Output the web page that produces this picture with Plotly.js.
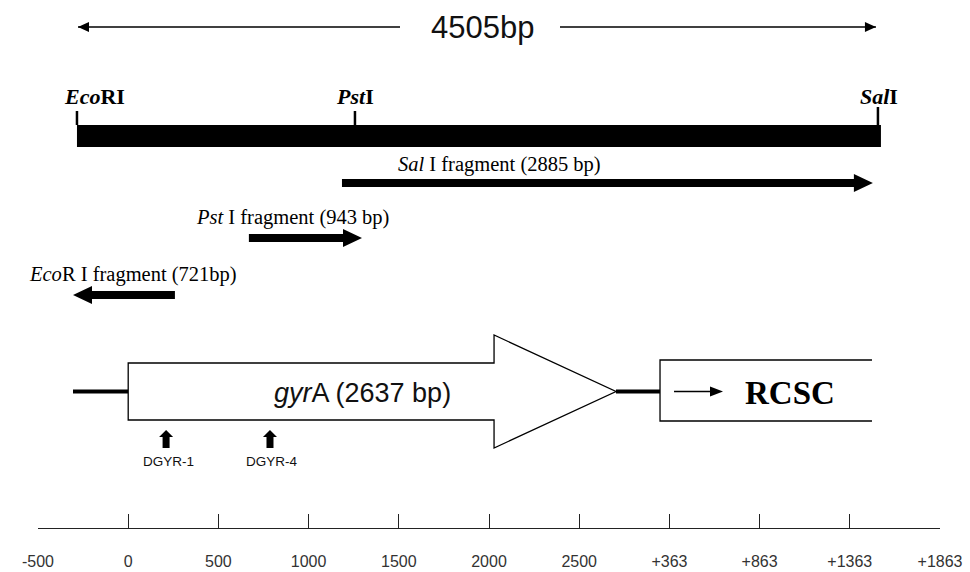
<!DOCTYPE html>
<html>
<head>
<meta charset="utf-8">
<script src="https://cdn.plot.ly/plotly-3.0.1.min.js"></script>
<style>html,body{margin:0;padding:0;background:#fff;}#chart{width:970px;height:572px;}</style>
</head>
<body>
<div id="chart"></div>
<script>
// ---------------- data (positions in bp) ----------------
const rulerTicks  = [-500, 0, 500, 1000, 1500, 2000, 2500, 3000, 3500, 4000, 4500];
const rulerLabels = ['-500', '0', '500', '1000', '1500', '2000', '2500', '+363', '+863', '+1363', '+1863'];

const totalLabel = '4505bp';

const siteNames = ['<b><i>Eco</i>RI</b>', '<b><i>Pst</i>I</b>', '<b><i>Sal</i>I</b>'];
const sitePos   = [-284, 1257, 4156];

const fragNames = ['<i>Sal</i> I fragment (2885 bp)', '<i>Pst</i> I fragment (943 bp)', '<i>Eco</i>R I fragment (721bp)'];
const fragTail  = [1185, 669, 259];
const fragHead  = [4128, 1296, -306];

const geneName     = '<i>gyr</i>A (2637 bp)';
const geneStart    = 0;
const geneHeadBase = 2028;
const geneEnd      = 2704;
const flankLeft    = -306;

const rcscName  = '<b>RCSC</b>';
const rcscStart = 2948;
const rcscEnd   = 4123;

const primerNames = ['DGYR-1', 'DGYR-4'];
const primerPos   = [210, 786];

// ---------------- layout helpers ----------------
const W = 970, H = 572, ML = 38, MR = 30, MT = 0, MB = 44;
const XMIN = -500, XMAX = 4500;
const K = (XMAX - XMIN) / (W - ML - MR);      // bp per pixel
const px2bp = p => XMIN + (p - ML) * K;

const serif = '"Liberation Serif", "Times New Roman", serif';
const sans  = '"Liberation Sans", Arial, sans-serif';

function hArrow(xT, xH, y, s, h, L) {
  const d = Math.sign(xH - xT);
  const hb = xH - d * L * K;
  return `M${xT},${y - s} L${hb},${y - s} L${hb},${y - h} L${xH},${y} L${hb},${y + h} L${hb},${y + s} L${xT},${y + s} Z`;
}
function vArrowUp(x, yTip, yBottom, s, h, L) {
  const hb = yTip + L;
  return `M${x - s * K},${yBottom} L${x - s * K},${hb} L${x - h * K},${hb} L${x},${yTip} L${x + h * K},${hb} L${x + s * K},${hb} L${x + s * K},${yBottom} Z`;
}
function tri(xTip, y, dir, L, h) {
  const b = xTip - dir * L * K;
  return `M${xTip},${y} L${b},${y - h} L${b},${y + h} Z`;
}

const shapes = [];
const annotations = [];
const black = '#000';

// top dimension arrow
const yTop = 27;
const topL = sitePos[0] + 1 * K, topR = sitePos[2] - 2 * K;
shapes.push({type: 'line', xref: 'x', yref: 'y', x0: topL, x1: px2bp(400), y0: yTop, y1: yTop, line: {color: black, width: 1.3}});
shapes.push({type: 'line', xref: 'x', yref: 'y', x0: px2bp(560), x1: topR, y0: yTop, y1: yTop, line: {color: black, width: 1.3}});
shapes.push({type: 'path', xref: 'x', yref: 'y', path: tri(topL, yTop, -1, 11, 5), fillcolor: black, line: {width: 0}});
shapes.push({type: 'path', xref: 'x', yref: 'y', path: tri(topR, yTop, 1, 11, 5), fillcolor: black, line: {width: 0}});
annotations.push({x: px2bp(482), y: yTop, xref: 'x', yref: 'y', text: totalLabel, showarrow: false,
  font: {family: sans, size: 31, color: '#111'}, xanchor: 'center', yanchor: 'middle'});

// restriction map bar
const barTop = 125, barBot = 147;
shapes.push({type: 'rect', xref: 'x', yref: 'y', x0: sitePos[0], x1: sitePos[2] + 3 * K, y0: barTop, y1: barBot, fillcolor: black, line: {width: 0}});
const tickTop = [111, 111, 107];
const labelOff = [18, 0, 1];
sitePos.forEach((p, i) => {
  shapes.push({type: 'line', xref: 'x', yref: 'y', x0: p, x1: p, y0: tickTop[i], y1: barTop, line: {color: black, width: 2.5}});
  annotations.push({x: p + labelOff[i] * K, y: 96, xref: 'x', yref: 'y', text: siteNames[i], showarrow: false,
    font: {family: serif, size: 22, color: black}, xanchor: 'center', yanchor: 'middle'});
});

// fragments
const fragY = [183, 238, 295];
const fragLabelX = [499, 292, 133];
const fragLabelY = [164, 217, 274];
fragTail.forEach((t, i) => {
  shapes.push({type: 'path', xref: 'x', yref: 'y', path: hArrow(t, fragHead[i], fragY[i], 4, 9, 19), fillcolor: black, line: {width: 0}});
  annotations.push({x: px2bp(fragLabelX[i]), y: fragLabelY[i], xref: 'x', yref: 'y', text: fragNames[i], showarrow: false,
    font: {family: serif, size: 20.5, color: black}, xanchor: 'center', yanchor: 'middle'});
});

// gene
const gMid = 391.5, gTop = 363, gBot = 420, hTop = 335, hBot = 448;
shapes.push({type: 'line', xref: 'x', yref: 'y', x0: flankLeft, x1: geneStart, y0: gMid, y1: gMid, line: {color: black, width: 4}});
shapes.push({type: 'line', xref: 'x', yref: 'y', x0: geneEnd, x1: rcscStart, y0: gMid, y1: gMid, line: {color: black, width: 4}});
shapes.push({type: 'path', xref: 'x', yref: 'y',
  path: `M${geneStart},${gTop} L${geneHeadBase},${gTop} L${geneHeadBase},${hTop} L${geneEnd},${gMid} L${geneHeadBase},${hBot} L${geneHeadBase},${gBot} L${geneStart},${gBot} Z`,
  fillcolor: '#fff', line: {color: black, width: 1.3}});
annotations.push({x: px2bp(362), y: gMid + 1, xref: 'x', yref: 'y', text: geneName, showarrow: false,
  font: {family: sans, size: 27, color: '#111'}, xanchor: 'center', yanchor: 'middle'});

// RCSC box (open on the right)
const rTop = 360, rBot = 421;
shapes.push({type: 'path', xref: 'x', yref: 'y',
  path: `M${rcscEnd},${rTop} L${rcscStart},${rTop} L${rcscStart},${rBot} L${rcscEnd},${rBot}`,
  line: {color: black, width: 1.3}});
shapes.push({type: 'line', xref: 'x', yref: 'y', x0: rcscStart + 14 * K, x1: rcscStart + 52 * K, y0: gMid, y1: gMid, line: {color: black, width: 1.3}});
shapes.push({type: 'path', xref: 'x', yref: 'y', path: tri(rcscStart + 63 * K, gMid, 1, 13, 5), fillcolor: black, line: {width: 0}});
annotations.push({x: px2bp(790), y: gMid + 1, xref: 'x', yref: 'y', text: rcscName, showarrow: false,
  font: {family: serif, size: 33, color: black}, xanchor: 'center', yanchor: 'middle'});

// primers
primerPos.forEach((p, i) => {
  shapes.push({type: 'path', xref: 'x', yref: 'y', path: vArrowUp(p, 430, 448, 3.5, 7, 7), fillcolor: black, line: {width: 0}});
  annotations.push({x: p + 2 * K, y: 461, xref: 'x', yref: 'y', text: primerNames[i], showarrow: false,
    font: {family: sans, size: 13.5, color: '#111'}, xanchor: 'center', yanchor: 'middle'});
});

const layout = {
  width: W, height: H,
  margin: {l: ML, r: MR, t: MT, b: MB, pad: 0},
  paper_bgcolor: '#fff', plot_bgcolor: '#fff',
  showlegend: false,
  xaxis: {
    range: [XMIN, XMAX], showgrid: false, zeroline: false,
    showline: true, linecolor: '#222', linewidth: 1,
    ticks: 'inside', ticklen: 14, tickwidth: 1, tickcolor: '#222',
    tickmode: 'array', tickvals: rulerTicks, ticktext: rulerLabels,
    tickfont: {family: sans, size: 16, color: '#333'},
    ticklabelstandoff: 19, fixedrange: true
  },
  yaxis: {range: [528, 0], visible: false, fixedrange: true},
  shapes: shapes,
  annotations: annotations
};

Plotly.newPlot('chart', [{x: [XMIN], y: [0], type: 'scatter', mode: 'markers', marker: {opacity: 0}, hoverinfo: 'skip'}], layout, {staticPlot: true, displayModeBar: false});
</script>
</body>
</html>
